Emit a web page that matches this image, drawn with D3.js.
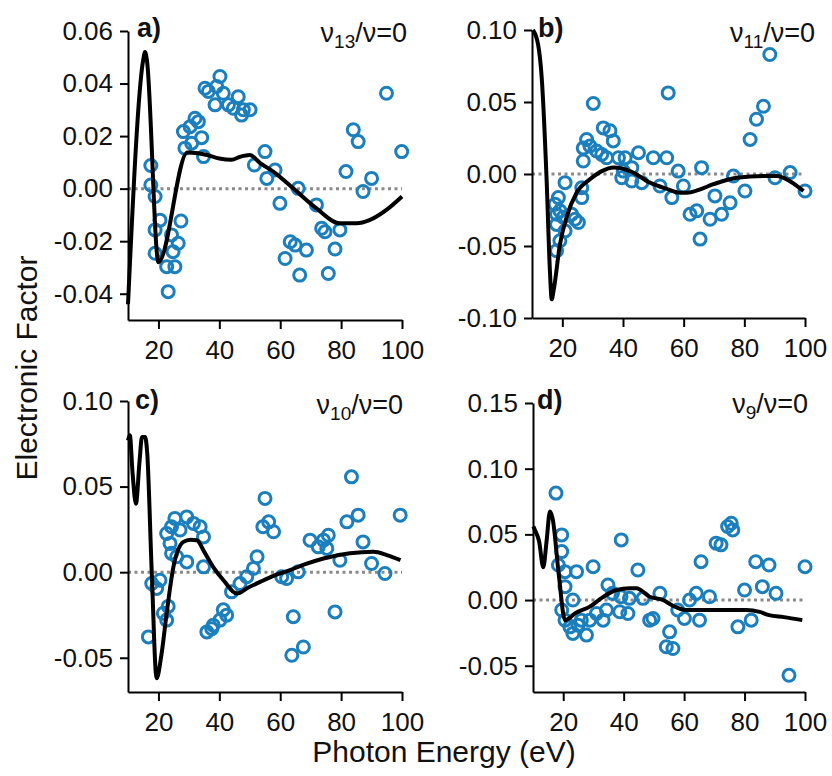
<!DOCTYPE html>
<html>
<head>
<meta charset="utf-8">
<script src="https://cdn.jsdelivr.net/npm/d3@7"></script>
<style>
  html, body { margin: 0; padding: 0; background: #fff; }
  svg { display: block; }
  text { font-family: "Liberation Sans", Arial, sans-serif; fill: #111; }
</style>
</head>
<body>
<svg id="chart" width="832" height="776"></svg>
<script>
// ---- shared axis data ----
const xTicks = [20, 40, 60, 80, 100];
const xDomain = [10, 100];

// ---- panel a: ν13 ----
const yDomainA = [-0.05, 0.06];
const yTicksA = [-0.04, -0.02, 0.00, 0.02, 0.04, 0.06];
const measEnergyA = [17.5,17.5,18.9,20.5,18.9,27.4,18.9,22.7,25.4,26.5,24.8,24.3,23.2,
  28.2,32,33.1,30.4,34.2,28.7,30.9,34.8,35.3,36.4,40.2,38.6,39.1,41.3,46.2,43,44.6,47.9,50.1,47.3,51.5,
  55,55.6,58.3,59.9,65.9,71.9,63.3,64.9,61.6,68.6,66.4,73.6,74.7,79.6,78,75.8,81.6,84,85.6,90,87.2,94.9,99.9];
const measValueA = [0.0088,0.0014,-0.003,-0.012,-0.0157,-0.0123,-0.0246,-0.0297,-0.0297,-0.0208,-0.024,-0.0176,-0.0392,
  0.0217,0.0268,0.0255,0.0236,0.0194,0.0154,0.0173,0.0122,0.0382,0.037,0.0427,0.0319,0.0389,0.0363,0.035,0.0319,0.0306,0.030,0.030,0.028,0.009,
  0.0141,0.0039,0.0071,-0.0056,0.0001,-0.0062,-0.0202,-0.0215,-0.0266,-0.0234,-0.0329,-0.0151,-0.0164,-0.0157,-0.023,-0.0323,0.0065,0.0224,0.0179,0.0039,-0.0011,0.0363,0.0141];
const calcEnergyA = [10,15.0,15.6,16.2,20,29.5,33,36,40,44,47,50,53.4,57.7,64.3,71.9,79.6,85,89.5,95,100];
const calcValueA = [-0.044,0.049,0.052,0.049,-0.028,0.0138,0.0135,0.0128,0.0115,0.011,0.0122,0.0128,0.0097,0.0065,0.0001,-0.0075,-0.0132,-0.0132,-0.0119,-0.008,-0.003];

// ---- panel b: ν11 ----
const yDomainB = [-0.10, 0.10];
const yTicksB = [-0.10, -0.05, 0.00, 0.05, 0.10];
const measEnergyB = [30.2,33.5,35.7,36.8,28,29.1,26.9,31.3,33,26.9,34.6,38.5,40.7,45.1,40.1,39.6,42.9,46.2,20.9,18.7,17.6,19.2,18.1,20.3,18.1,23.1,24.2,25.3,26.4,26.4,20.9,19.2,18.1,
  54.9,88.4,86.3,84,81.9,50,54.4,58.2,65.9,52.2,56.1,59.9,70.3,62.1,64.3,68.7,72.5,75.3,76.4,80.2,90.1,95.1,100,65.4,42.9];
const measValueB = [0.049,0.032,0.030,0.023,0.024,0.0194,0.018,0.016,0.0136,0.009,0.0113,0.0113,0.0113,0.0148,0.002,-0.0026,-0.0049,-0.006,-0.006,-0.0164,-0.021,-0.0256,-0.028,-0.030,-0.035,-0.028,-0.0314,-0.0337,-0.0164,-0.0095,-0.0395,-0.0464,-0.0533,
  0.0563,0.083,0.047,0.038,0.024,0.0113,0.0113,0.002,0.0044,-0.0083,-0.0164,-0.0083,-0.0152,-0.028,-0.0256,-0.0314,-0.028,-0.020,-0.0014,-0.0118,-0.0026,0.001,-0.0118,-0.0452,0.0044];
const calcEnergyB = [10.3,12,13.2,14.8,15.9,16.5,17.2,19.2,21.4,24.7,29.1,33,37,42.3,48.9,54,58.8,61,65,69.8,77.5,86.3,90.7,95,99.5];
const calcValueB = [0.100,0.090,0.067,-0.003,-0.067,-0.087,-0.080,-0.049,-0.030,-0.013,-0.0037,0.002,0.0045,0.002,-0.006,-0.010,-0.013,-0.013,-0.011,-0.0071,-0.0026,-0.0014,-0.0014,-0.005,-0.0118];

// ---- panel c: ν10 ----
const yDomainC = [-0.07, 0.10];
const yTicksC = [-0.05, 0.00, 0.05, 0.10];
const measEnergyC = [17.8,19.4,20.5,16.7,21.6,23.2,22.7,22.7,24.3,25.4,29.3,31.5,33.7,27.1,34.8,23.8,24.3,29.3,26,34.8,35.9,38,40.2,41.3,37.5,42.4,44,46.8,49,51.2,52.4,
  54.3,55,56.2,57.8,60.5,62.1,65.9,64.3,63.8,67.6,78,69.8,72.5,74.2,75.8,75.3,79.6,81.9,85.6,83.4,87.2,90,94.4,99.4];
const measValueC = [-0.0066,-0.0095,-0.0047,-0.0378,-0.024,-0.020,-0.028,0.0226,0.0265,0.0314,0.0323,0.0285,0.0265,0.0246,0.0206,0.0168,0.011,0.006,0.009,0.0031,-0.0349,-0.031,-0.028,-0.022,-0.033,-0.0251,-0.0115,-0.0066,-0.0027,0.0022,0.009,
  0.0265,0.0431,0.0294,0.0236,-0.0027,-0.0037,0.0002,-0.026,-0.0485,-0.0437,-0.0232,0.0187,0.0148,0.0187,0.0216,0.0139,0.007,0.0294,0.0333,0.0557,0.0177,0.0051,-0.0008,0.0333];
const calcEnergyC = [10,10.6,11.5,12.6,13.8,14.6,15.6,16.3,17.8,19.4,21,22.7,24.9,28.2,30.5,32.6,35,38,41.5,45.7,49.5,53.4,58,63.2,68,74.2,82.9,90.6,95,99.5];
const calcValueC = [0.077,0.080,0.058,0.040,0.065,0.079,0.079,0.070,0.000,-0.062,-0.048,-0.024,0.003,0.0177,0.019,0.0187,0.012,0.003,-0.005,-0.0125,-0.009,-0.0057,-0.002,0.0012,0.0045,0.008,0.011,0.0119,0.010,0.007];

// ---- panel d: ν9 ----
const yDomainD = [-0.07, 0.15];
const yTicksD = [-0.05, 0.00, 0.05, 0.10, 0.15];
const measEnergyD = [17.6,19.5,19.5,18.4,20.6,24.4,29.9,39.2,44.7,20.6,34.8,23.2,19.5,20.6,22.2,23.2,24.9,27.7,26,28.8,31,33.2,34.3,38.7,41.4,36.3,39.1,41.9,48.6,
  46.4,52,49.7,55.2,54.1,56.3,57.9,60.1,61.8,64,65.1,68.4,65.6,70.6,72.2,74.4,75.6,76.1,77.8,82.2,80,83.7,88.1,85.9,90.4,94.7,100];
const measValueD = [0.0814,0.0496,0.0369,0.0267,0.0216,0.0216,0.0254,0.0458,0.0229,0.0102,0.0115,0,-0.0076,-0.0153,-0.0204,-0.0254,-0.0191,-0.0267,-0.0153,-0.0153,-0.0102,-0.0153,-0.0076,-0.0089,-0.0102,0.0051,0.0025,0.0013,-0.0153,
  0.0013,0.0051,-0.014,-0.0242,-0.0356,-0.0369,-0.0076,-0.014,0,0.0051,-0.0153,0.0025,0.0292,0.0433,0.042,0.056,0.0585,0.0534,-0.0204,-0.0153,0.0076,0.0292,0.0267,0.0102,0.0051,-0.0573,0.0254];
const calcEnergyD = [10.1,10.7,12,13.4,14.5,15.6,16.5,18.5,20.6,24,28.8,33,37.6,42,44.2,48.6,53,56,60.7,69.5,80.5,85,88.1,93,99.1];
const calcValueD = [0.056,0.053,0.045,0.025,0.045,0.0674,0.062,0.020,-0.0153,-0.010,-0.005,0.002,0.0076,0.0089,0.0089,0.0025,0,-0.004,-0.0076,-0.0076,-0.0076,-0.009,-0.0115,-0.013,-0.0153];

const panelLetters = ["a)", "b)", "c)", "d)"];
const modeSubscripts = ["13", "11", "10", "9"];

// ---- panel frames (pixel boxes) ----
const frames = [
  { left: 128, right: 402, top: 31, bottom: 320, labelX: 137, labelY: 37, noteX: 407, noteY: 42 },
  { left: 532, right: 805, top: 30, bottom: 318, labelX: 538, labelY: 37, noteX: 815, noteY: 42 },
  { left: 128, right: 402, top: 401, bottom: 692, labelX: 135, labelY: 409, noteX: 403, noteY: 414 },
  { left: 533, right: 805, top: 403, bottom: 692, labelX: 537, labelY: 409, noteX: 808, noteY: 413 }
];

const panels = [
  { yDomain: yDomainA, yTicks: yTicksA, mx: measEnergyA, my: measValueA, cx: calcEnergyA, cy: calcValueA },
  { yDomain: yDomainB, yTicks: yTicksB, mx: measEnergyB, my: measValueB, cx: calcEnergyB, cy: calcValueB },
  { yDomain: yDomainC, yTicks: yTicksC, mx: measEnergyC, my: measValueC, cx: calcEnergyC, cy: calcValueC },
  { yDomain: yDomainD, yTicks: yTicksD, mx: measEnergyD, my: measValueD, cx: calcEnergyD, cy: calcValueD }
];

const svg = d3.select("#chart");
const markerColor = "#1b7fbd";

panels.forEach((p, i) => {
  const f = frames[i];
  const x = d3.scaleLinear().domain(xDomain).range([f.left, f.right]);
  const y = d3.scaleLinear().domain(p.yDomain).range([f.bottom, f.top]);
  const g = svg.append("g");

  // zero reference line
  g.append("line")
    .attr("x1", x(xDomain[0])).attr("x2", x(xDomain[1]))
    .attr("y1", y(0)).attr("y2", y(0))
    .attr("stroke", "#8a8a8a").attr("stroke-width", 3)
    .attr("stroke-dasharray", "3,3.5");

  // measured points
  g.append("g").selectAll("circle")
    .data(p.mx.map((e, k) => [e, p.my[k]]))
    .join("circle")
    .attr("cx", d => x(d[0]))
    .attr("cy", d => y(d[1]))
    .attr("r", 6)
    .attr("fill", "none")
    .attr("stroke", markerColor)
    .attr("stroke-width", 3);

  // calculated curve
  const line = d3.line().x(d => x(d[0])).y(d => y(d[1])).curve(d3.curveMonotoneX);
  g.append("path")
    .datum(p.cx.map((e, k) => [e, p.cy[k]]))
    .attr("d", line)
    .attr("fill", "none")
    .attr("stroke", "#000")
    .attr("stroke-width", 4)
    .attr("stroke-linejoin", "round");

  // axes
  const xAxis = d3.axisBottom(x).tickValues(xTicks).tickSize(9).tickSizeOuter(0).tickPadding(12)
    .tickFormat(d => String(d));
  const yAxis = d3.axisLeft(y).tickValues(p.yTicks).tickSize(8).tickSizeOuter(0).tickPadding(7)
    .tickFormat(d => d.toFixed(2));

  const gx = g.append("g").attr("transform", `translate(0,${f.bottom})`).call(xAxis);
  const gy = g.append("g").attr("transform", `translate(${f.left},0)`).call(yAxis);
  [gx, gy].forEach(a => {
    a.selectAll("path, line").attr("stroke", "#000").attr("stroke-width", 2);
    a.selectAll("text").attr("font-size", 26)
      .attr("font-family", '"Liberation Sans", Arial, sans-serif').attr("fill", "#111");
  });

  // panel letter
  g.append("text")
    .attr("x", f.labelX).attr("y", f.labelY)
    .attr("font-size", 27).attr("font-weight", "bold")
    .text(panelLetters[i]);

  // vibrational mode label
  const note = g.append("text")
    .attr("x", f.noteX).attr("y", f.noteY)
    .attr("text-anchor", "end")
    .attr("font-size", 27);
  note.append("tspan").text("ν");
  note.append("tspan").attr("dy", 6).attr("font-size", 19).text(modeSubscripts[i]);
  note.append("tspan").attr("dy", -6).text("/ν=0");
});

// shared axis titles
svg.append("text")
  .attr("transform", "translate(37,368) rotate(-90)")
  .attr("text-anchor", "middle")
  .attr("font-size", 30)
  .text("Electronic Factor");

svg.append("text")
  .attr("x", 444).attr("y", 762)
  .attr("text-anchor", "middle")
  .attr("font-size", 30)
  .text("Photon Energy (eV)");
</script>
</body>
</html>
